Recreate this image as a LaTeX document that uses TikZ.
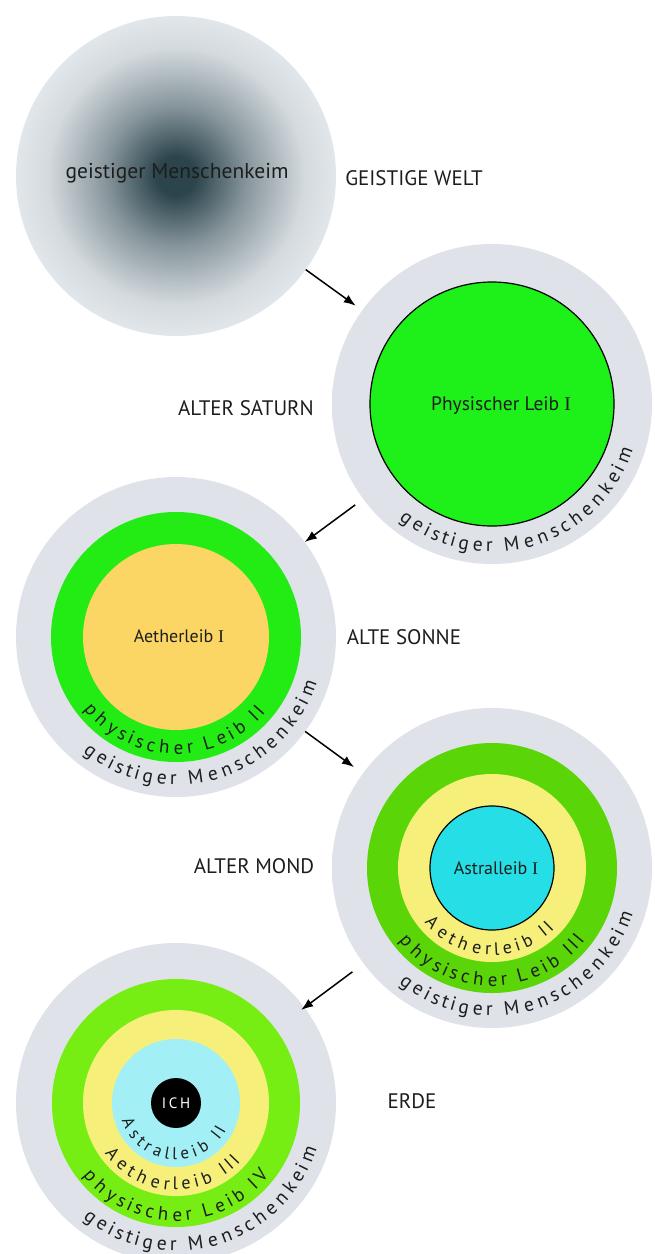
\documentclass[tikz,border=0pt]{standalone}
\usepackage{fontspec}
\setmainfont{PT Sans}
\newfontfamily\roemisch{Liberation Serif}
\newfontfamily\gesperrt[LetterSpace=18]{PT Sans}
\usetikzlibrary{arrows.meta,decorations.text}

\definecolor{huelleinnen}{RGB}{223,226,232}
\definecolor{huelleaussen}{RGB}{237,239,243}
\definecolor{keimdunkel}{RGB}{44,68,76}
\definecolor{keimhell}{RGB}{234,238,242}
\definecolor{gruenI}{RGB}{30,240,25}
\definecolor{gruenII}{RGB}{34,236,20}
\definecolor{gruenIII}{RGB}{90,214,8}
\definecolor{gruenIV}{RGB}{118,238,20}
\definecolor{aetherI}{RGB}{252,214,100}
\definecolor{aetherII}{RGB}{246,240,122}
\definecolor{astralI}{RGB}{38,222,230}
\definecolor{astralII}{RGB}{162,240,245}
\definecolor{schrift}{RGB}{28,30,30}

\pgfdeclareradialshading{huelle}{\pgfpoint{0bp}{0bp}}{color(0bp)=(huelleinnen); color(27bp)=(huelleinnen); color(35.4bp)=(huelleaussen); color(50bp)=(huelleaussen)}
\pgfdeclareradialshading{keim}{\pgfpoint{0bp}{0bp}}{color(0bp)=(keimdunkel); color(3bp)=(keimdunkel); color(11bp)=(keimdunkel!52!keimhell); color(20bp)=(keimdunkel!12!keimhell); color(28bp)=(keimhell); color(50bp)=(keimhell)}

\begin{document}
\begin{tikzpicture}[x=1pt, y=1pt, >={Latex[length=12pt,width=9pt]},
	kugel/.style={circle, inner sep=0pt, outer sep=0pt, minimum size=#1},
	stufe/.style={font=\fontsize{21}{23}\selectfont, text=schrift},
	leib/.style={font=\fontsize{#1}{#1}\selectfont, text=schrift},
	bogen/.style 2 args={decorate, decoration={text effects along path, text={#2},
		text effects/.cd, text along path, fit text to path,
		characters={text=schrift, font=\fontsize{#1}{#1}\selectfont}}},
	zahl/.style={decoration={text effects/every last word/.style={font=\roemisch\fontsize{#1}{#1}\selectfont}}},
	pfeil/.style={->, line width=1.5pt, black}]
	\useasboundingbox (0,0) rectangle (654,-1254);
	
	\node[kugel=320pt, shade, shading=keim] (welt) at (176,-176) {};
	\node[kugel=320pt, shade, shading=huelle] (saturn) at (492,-404) {};
	\node[kugel=320pt, shade, shading=huelle] (sonne) at (176,-637) {};
	\node[kugel=320pt, shade, shading=huelle] (mond) at (492,-868) {};
	\node[kugel=320pt, shade, shading=huelle] (erde) at (176,-1103) {};
	
	\node[kugel=244pt, fill=gruenI, draw=black, line width=1.2pt] (saturn-phys) at (saturn) {};
	\node[kugel=250pt, fill=gruenII] (sonne-phys) at (sonne) {};
	\node[kugel=186pt, fill=aetherI] (sonne-aether) at (sonne) {};
	\node[kugel=250pt, fill=gruenIII] (mond-phys) at (mond) {};
	\node[kugel=188pt, fill=aetherII] (mond-aether) at (mond) {};
	\node[kugel=124pt, fill=astralI, draw=black, line width=1.2pt] (mond-astral) at (mond) {};
	\node[kugel=248pt, fill=gruenIV] (erde-phys) at (erde) {};
	\node[kugel=186pt, fill=aetherII] (erde-aether) at (erde) {};
	\node[kugel=128pt, fill=astralII] (erde-astral) at (erde) {};
	\node[kugel=50pt, fill=black, text=white, font=\gesperrt\fontsize{15}{15}\selectfont] (ich) at (erde) {ICH};
	
	\node[leib=21.5] (welt-keim) at (177,-173) {geistiger Menschenkeim};
	\node[leib=19.5] (saturn-leib) at (501,-406) {Physischer Leib {\roemisch I}};
	\node[leib=18] (sonne-leib) at (179,-636) {Aetherleib {\roemisch I}};
	\node[leib=18] (mond-leib) at (496,-868) {Astralleib {\roemisch I}};
	
	\node[stufe] (welt-name) at (414,-178) {GEISTIGE WELT};
	\node[stufe] (saturn-name) at (246,-408) {ALTER SATURN};
	\node[stufe] (sonne-name) at (404,-637) {ALTE SONNE};
	\node[stufe] (mond-name) at (254,-866) {ALTER MOND};
	\node[stufe] (erde-name) at (412,-1101) {ERDE};
	
	\path[bogen={19.5}{geistiger Menschenkeim}] (saturn.center) ++(231:148) arc[start angle=231, end angle=342, radius=148pt];
	
	\path[bogen={19}{physischer Leib II}, zahl=19] (sonne.center) ++(218:117) arc[start angle=218, end angle=320, radius=117pt];
	\path[bogen={19.5}{geistiger Menschenkeim}] (sonne.center) ++(231:148) arc[start angle=231, end angle=342, radius=148pt];
	
	\path[bogen={18}{Aetherleib II}, zahl=18] (mond.center) ++(219:87) arc[start angle=219, end angle=316, radius=87pt];
	\path[bogen={19}{physischer Leib III}, zahl=19] (mond.center) ++(218:118) arc[start angle=218, end angle=322, radius=118pt];
	\path[bogen={19.5}{geistiger Menschenkeim}] (mond.center) ++(231:148) arc[start angle=231, end angle=342, radius=148pt];
	
	\path[bogen={17}{Astralleib II}, zahl=17] (erde.center) ++(198:57) arc[start angle=198, end angle=332, radius=57pt];
	\path[bogen={18}{Aetherleib III}, zahl=18] (erde.center) ++(215:87) arc[start angle=215, end angle=318, radius=87pt];
	\path[bogen={19}{physischer Leib IV}, zahl=19] (erde.center) ++(218:118) arc[start angle=218, end angle=322, radius=118pt];
	\path[bogen={19.5}{geistiger Menschenkeim}] (erde.center) ++(231:148) arc[start angle=231, end angle=342, radius=148pt];
	
	\draw[pfeil, shorten >=8pt] (welt) -- (saturn);
	\draw[pfeil, shorten <=10pt] (saturn) -- (sonne);
	\draw[pfeil, shorten >=11pt] (sonne) -- (mond);
	\draw[pfeil, shorten <=14pt, shorten >=-4pt] (mond) -- (erde);
\end{tikzpicture}
\end{document}
